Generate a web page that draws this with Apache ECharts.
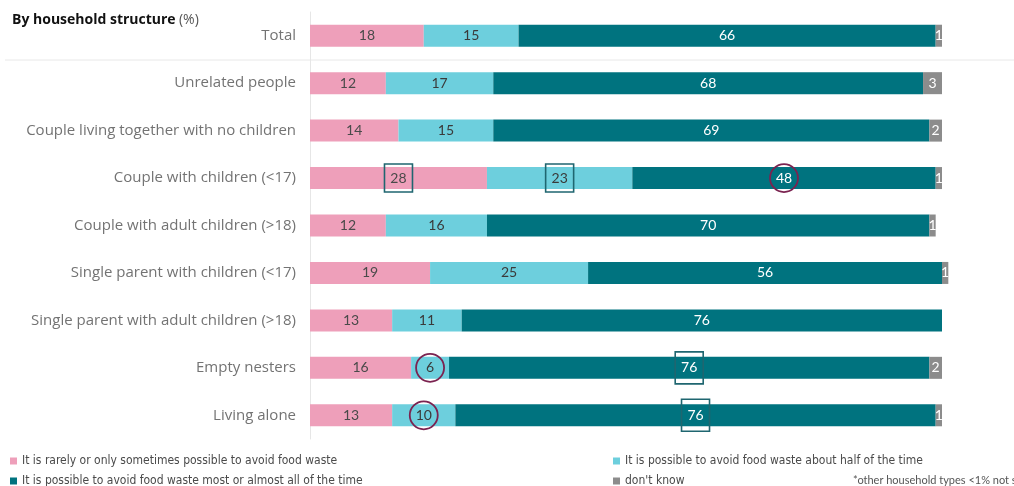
<!DOCTYPE html>
<html>
<head>
<meta charset="utf-8">
<script src="https://cdn.jsdelivr.net/npm/echarts@6/dist/echarts.min.js"></script>
<style>html,body{margin:0;padding:0;background:#fff}#c{width:1014px;height:486px}</style>
</head>
<body>
<div id="c"></div>
<script>
const categories = ["Total","Unrelated people","Couple living together with no children","Couple with children (<17)","Couple with adult children (>18)","Single parent with children (<17)","Single parent with adult children (>18)","Empty nesters","Living alone"];
const seriesNames = ["It is rarely or only sometimes possible to avoid food waste","It is possible to avoid food waste about half of the time","It is possible to avoid food waste most or almost all of the time","don't know"];
const rarely   = [18,12,14,28,12,19,13,16,13];
const half     = [15,17,15,23,16,25,11,6,10];
const most     = [66,68,69,48,70,56,76,76,76];
const dontKnow = [1,3,2,1,1,1,0,2,1];
// annotation marks: [seriesIndex, categoryIndex, shape]
const highlights = [[0,3,'square'],[1,3,'square'],[2,3,'circle'],[1,7,'circle'],[2,7,'square'],[1,8,'circle'],[2,8,'square']];

const colors = ['#EE9FBA','#6DCFDD','#00737F','#8C8C8C'];
const textCols = ['#4a4a4a','#3a3a3a','#ffffff','#ffffff'];
const values = [rarely, half, most, dontKnow];
const font = 'Lato';

function buildData(si){
  return values[si].map((v,ci)=>{
    const h = highlights.find(x=>x[0]===si && x[1]===ci);
    const item = {value: v === 0 ? null : v};
    if (h){
      if (h[2]==='square'){
        const tall = si===2;
        item.label = {borderColor:'#1f6670', borderWidth:1.6, width:24, height: tall?28:24, lineHeight: tall?28:24,
          align:'center', padding:[2,2,2,2], borderRadius:0};
      } else {
        item.label = {borderColor:'#7b2350', borderWidth:1.8, width:26, height:26, lineHeight:26, borderRadius:15, padding:[1,1,1,1], align:'center'};
      }
    }
    return item;
  });
}

const series = seriesNames.map((n,si)=>({
  name:n, type:'bar', stack:'s', barWidth:22, clip:false,
  itemStyle:{color:colors[si]},
  label:{show:true, position:'inside', color:textCols[si], fontFamily:font, fontSize:14,
    formatter: p => p.value == null ? '' : String(p.value)},
  data: buildData(si)
}));

const chart = echarts.init(document.getElementById('c'), null, {renderer:'canvas'});
const legendPos = [{left:10,top:455},{left:613,top:455},{left:10,top:475},{left:613,top:475}];
chart.setOption({
  animation:false,
  textStyle:{fontFamily:font},
  grid:{left:310, right:72, top:12, bottom:47},
  xAxis:{type:'value', min:0, max:100, show:false},
  yAxis:{type:'category', data:categories, inverse:true,
    axisLine:{show:true, lineStyle:{color:'#e6e6e6', width:1}},
    axisTick:{show:false},
    axisLabel:{color:'#737373', fontSize:15, fontFamily:'Open Sans', margin:14}},
  legend: seriesNames.map((n,i)=>({
    data:[n], left:legendPos[i].left, top:legendPos[i].top, icon:'rect', padding:0,
    itemWidth:7, itemHeight:7, itemGap:4,
    textStyle:{color:'#4a4a4a', fontSize:12, fontFamily:'Liberation Sans Narrow, DejaVu Sans Condensed, sans-serif'}
  })),
  graphic:[
    {type:'text', left:12, top:13, style:{text:'{b|By household structure} {n|(%)}', rich:{
      b:{fontWeight:'bold', fontSize:14, fill:'#111', fontFamily:'Open Sans'},
      n:{fontSize:14, fill:'#555', fontFamily:'Open Sans'}}}},
    {type:'line', shape:{x1:5,y1:60,x2:1014,y2:60}, style:{stroke:'#e8e8e8', lineWidth:1}},
    {type:'text', left:853, top:475, style:{text:'*other household types <1% not shown', fontSize:11, fill:'#555', fontFamily:font}}
  ],
  series
});
</script>
</body>
</html>
